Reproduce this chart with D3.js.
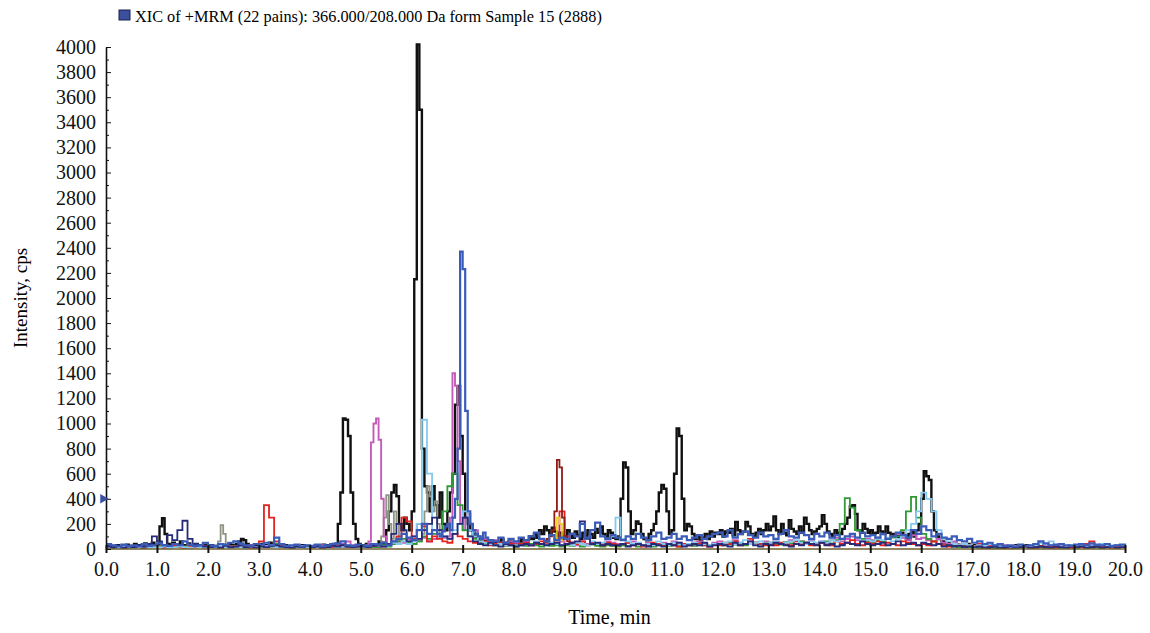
<!DOCTYPE html>
<html lang="en">
  <head>
    <meta charset="UTF-8" />
    <title>XIC chromatogram</title>
    <script src="https://cdn.jsdelivr.net/npm/d3@7"></script>
    <style>
      body { margin: 0; background: #fff; }
      svg { display: block; font-family: "Liberation Serif", "Times New Roman", serif; }
      .axis text { font-family: "Liberation Serif", "Times New Roman", serif; font-size: 20px; fill: #111; }
      .axis path, .axis line { stroke: #111; }
    </style>
  </head>
  <body>
    <svg width="1150" height="633"></svg>

    <script>
      // tick labels
      var xTicks = [0, 1, 2, 3, 4, 5, 6, 7, 8, 9, 10, 11, 12, 13, 14, 15, 16, 17, 18, 19, 20];
      var yTicks = [0, 200, 400, 600, 800, 1000, 1200, 1400, 1600, 1800, 2000, 2200, 2400, 2600, 2800, 3000, 3200, 3400, 3600, 3800, 4000];
      var yMinorTicks = [100, 300, 500, 700, 900, 1100, 1300, 1500, 1700, 1900, 2100, 2300, 2500, 2700, 2900, 3100, 3300, 3500, 3700, 3900];

      // intensities (cps); every segment gives start time, sampling step, values
      var blackValues = [
        20,15,25,10,30,20,15,25,35,20,15,40,20,30,25,45,20,30,50,25,
        30,180,245,120,40,30,50,25,35,60,30,20,45,30,25,40,20,30,25,35,
        20,30,15,25,20,35,30,20,40,30,25,40,60,80,70,40,30,25,20,30,
        25,40,30,20,50,35,40,25,30,20,30,25,15,20,30,25,20,30,15,25,
        20,15,30,25,20,35,25,30,20,40,40,200,450,1040,1030,900,450,200,80,40,
        30,20,40,25,30,20,30,60,40,50,150,300,450,510,420,200,150,250,200,150,
        300,2150,4020,3500,800,500,450,300,500,350,250,450,200,150,300,450,600,1150,1300,900,
        600,250,200,150,120,100,80,60,70,50,60,40,50,60,45,80,50,40,60,50,
        50,40,60,80,50,70,100,80,120,90,150,120,180,150,110,170,140,100,130,80,
        100,150,120,90,140,110,80,130,100,150,120,90,160,130,180,120,100,150,130,90,
        80,100,400,690,650,300,120,150,220,200,120,80,70,120,150,200,300,450,510,480,
        300,120,150,600,960,900,400,150,200,180,120,80,100,60,90,120,80,140,100,130,
        120,150,100,140,130,160,110,215,150,120,140,215,180,120,100,130,160,120,150,200,
        150,180,260,150,120,200,130,110,230,160,140,120,180,130,250,200,150,120,140,160,
        180,270,200,140,120,100,150,130,120,160,200,250,340,350,280,150,130,200,160,130,
        150,120,130,180,140,120,180,130,100,120,110,90,130,100,80,120,140,100,150,200,
        400,620,580,550,300,150,100,80,60,50,40,50,30,40,35,30,25,30,40,20,
        30,20,25,15,30,20,10,15,20,10,15,20,10,15,20,10,15,30,20,25,
        20,30,15,25,20,35,20,15,30,20,25,15,20,30,15,25,20,15,30,20,
        25,15,30,20,15,25,35,20,15,30,20,25,15,30,20,15,25,20,30,20,
        25
      ];

      var grayA = [20, 60, 190, 120, 30, 15];
      var grayB = [30, 100, 250, 430, 200, 80, 300, 200, 60];
      var grayC = [120, 300, 500, 420, 300, 380, 200, 90];

      var magentaA = [
        10,15,20,10,25,15,20,10,15,25, 20,30,15,20,25,10,20,30,15,20,
        25,15,20,30,20,15,25,20,30,15, 20,25,30,20,15,25,20,30,20,25,
        15,20,30,25,20,30,40,60,30,20, 25
      ];
      var magentaB = [20, 30, 60, 850, 1000, 1040, 870, 400, 100, 40, 30, 50];
      var magentaC = [60, 50, 80, 100, 70, 90, 60, 80, 120, 90, 100];
      var magentaD = [250, 1400, 1300, 700, 200, 150, 250, 280, 200, 150];
      var magentaE = [
        100,80,60,70,50,40,60,
        50,40,60,30,50,40,70,50,40,60, 40,50,30,60,40,50,30,40,60,50,
        40,30,50,60,40,30,50,40,30,50, 40,60,50,30,40,50,60,40,30,50,
        60,40,50,70,50,40,60,50,40,60, 50,60,40,50,70,40,60,50,70,40,
        60,50,70,90,60,80,100,70,60,80, 70,90,60,80,100,120,90,70,110,80,
        90,70,60,80,50,40,60,30,40,30, 20,30,15,25,20,15,30,20,25,15,
        20,15,25,20,30,15,20,25,15,20, 25,20,15,30,20,25,15,20,30,20, 20
      ];

      var greenValues = [
        15,10,20,15,10,25,15,10,20,15, 20,15,10,25,15,20,10,15,20,10,
        15,20,10,15,25,20,15,10,20,15, 20,15,25,40,20,15,10,20,15,25,
        15,20,10,25,15,20,30,25,15,20, 15,25,20,15,30,20,40,60,80,50,
        40,60,100,80,120,150,300,500,600,350, 150,100,80,60,50,40,30,40,25,30,
        20,30,25,40,30,20,35,25,30,20, 30,25,40,20,30,35,25,20,30,25,
        20,30,25,35,20,30,25,20,35,30, 25,30,20,35,30,25,40,30,25,35,
        40,30,50,35,45,30,40,50,35,45, 50,40,35,55,45,40,60,50,40,45,
        50,60,45,70,200,405,330,150,80,60, 50,70,60,80,90,100,150,300,415,250,
        120,80,60,40,30,25,20,15,20,15, 15,10,20,15,10,15,20,10,15,10,
        15,20,10,15,10,20,15,10,15,20, 10,15,20,10,15,10,20,15,10,15, 10
      ];

      var redValues = [
        10,20,15,10,25,15,20,10,15,20, 15,10,20,25,15,10,20,15,30,20,
        15,20,10,15,20,25,15,20,10,15, 60,350,250,60,30,20,15,25,20,15,
        15,20,10,25,15,20,30,20,15,20, 20,15,25,30,20,40,60,100,250,220,
        80,200,180,60,100,80,60,50,120,100, 80,60,50,40,60,30,40,50,30,40,
        30,40,50,30,40,60,50,40,80,300, 100,50,40,60,30,50,40,30,50,40,
        30,40,50,30,40,20,30,50,40,30, 40,30,20,40,30,50,40,30,20,40,
        30,50,40,60,30,40,80,50,40,30, 40,30,50,40,30,60,40,50,30,40,
        50,40,30,60,40,50,70,40,30,50, 40,60,30,50,40,30,60,50,40,30,
        40,30,60,40,30,20,40,30,20,30, 20,40,15,20,30,15,20,10,15,20,
        15,20,10,25,15,20,10,15,20,10, 20,15,40,60,30,15,20,10,15,20, 15
      ];
      var darkRedValues = [40, 60, 80, 100, 150, 300, 710, 650, 250, 100, 60, 40, 30];

      var lightBlueValues = [
        10,15,10,20,15,10,15,20,10,15, 15,20,10,15,20,15,10,20,15,10,
        20,15,25,15,10,20,15,10,20,15, 15,20,30,15,20,10,15,20,25,15,
        20,15,10,20,25,15,20,30,15,20, 15,20,40,30,20,30,50,40,60,40,
        60,200,1030,600,150,120,100,80,150,200, 300,150,100,60,50,40,30,40,30,25,
        30,25,40,30,60,40,30,50,40,30, 40,30,50,40,30,60,40,50,80,100,
        250,80,60,40,50,30,40,30,60,40, 30,50,40,30,40,50,30,40,30,40,
        40,50,60,40,50,70,40,50,60,40, 50,60,40,50,60,70,50,40,60,50,
        60,50,70,60,80,100,120,90,60,70, 60,80,70,90,60,80,100,150,200,300,
        450,400,300,150,80,60,40,30,40,30, 20,30,25,40,30,20,25,15,20,30,
        20,25,30,50,35,60,30,20,25,30, 25,30,20,35,25,40,30,20,30,25, 25
      ];

      var navyValues = [
        20,15,25,10,20,15,30,20,40,100, 60,30,110,70,150,225,80,40,30,20,
        15,20,10,25,15,20,30,15,20,10, 20,15,25,30,20,15,10,20,15,25,
        15,20,10,15,25,20,30,20,15,20, 20,15,25,30,20,40,120,200,150,60,
        100,80,150,200,250,150,100,80,120,200, 250,100,60,40,30,50,30,20,40,30,
        20,30,40,30,50,40,30,40,50,30, 40,50,60,220,80,40,50,30,40,30,
        30,40,20,30,40,30,20,40,30,20, 40,30,50,20,30,40,30,50,20,30,
        40,30,20,50,30,40,60,30,20,40, 30,50,40,30,20,40,30,50,40,30,
        50,30,40,20,30,50,40,30,60,40, 30,40,50,30,40,60,30,40,50,30,
        50,40,30,40,20,30,20,25,15,20, 15,20,10,15,20,10,15,20,10,15,
        20,10,15,20,15,10,20,15,10,20, 15,20,10,15,20,10,15,20,10,15, 10
      ];

      var blueA = [
        40,30,20,35,25,30,20,40,25,30, 45,30,25,40,30,60,35,25,30,50,
        30,25,40,35,50,60,45,30,25,40, 35,50,30,90,40,25,30,35,20,30,
        25,35,20,30,40,45,60,30,25,35, 30,25,40,35,50,30,60,80,120,90,
        70,150,200,120,150
      ];
      var blueB = [120, 100, 140, 180, 200, 150, 250, 400, 800, 2370, 2230, 1100, 300, 200, 150, 120, 100, 80, 130, 90];
      var blueC = [
        70,60,90,50,80,
        60,90,70,100,130,80,60,110,70,90, 80,120,100,200,90,150,210,100,80,110,
        90,70,100,80,120,90,70,100,130,80, 90,120,80,100,70,90,110,80,100,120,
        130,100,150,90,120,140,110,90,130,100, 110,80,120,150,100,90,130,110,80,120,
        100,130,90,110,80,100,120,90,130,100, 110,90,120,80,100,130,110,90,150,120,
        180,150,100,120,90,80,100,70,60,80, 50,60,40,50,30,40,25,30,20,35,
        25,30,40,60,45,30,35,40,30,25, 35,40,30,45,35,30,40,25,30,35, 30
      ];

      var yellowValues = [50, 250, 200, 60];

      var series = [
        { color: "#111111", width: 2.4, segments: [{ start: 0, step: 0.05, values: blackValues }] },
        { color: "#8e9484", width: 1.8, segments: [
          { start: 2.15, step: 0.05, values: grayA },
          { start: 5.35, step: 0.05, values: grayB },
          { start: 6.2, step: 0.05, values: grayC }] },
        { color: "#c25cb8", width: 1.9, segments: [
          { start: 0, step: 0.1, values: magentaA },
          { start: 5.05, step: 0.05, values: magentaB },
          { start: 5.7, step: 0.1, values: magentaC },
          { start: 6.75, step: 0.05, values: magentaD },
          { start: 7.3, step: 0.1, values: magentaE }] },
        { color: "#2f9a35", width: 1.8, segments: [{ start: 0, step: 0.1, values: greenValues }] },
        { color: "#e3231f", width: 1.8, segments: [{ start: 0, step: 0.1, values: redValues }] },
        { color: "#8e1b17", width: 1.8, segments: [{ start: 8.55, step: 0.05, values: darkRedValues }] },
        { color: "#e6d21c", width: 1.6, segments: [{ start: 8.8, step: 0.05, values: yellowValues }] },
        { color: "#86c9ee", width: 1.8, segments: [{ start: 0, step: 0.1, values: lightBlueValues }] },
        { color: "#262a78", width: 1.8, segments: [{ start: 0, step: 0.1, values: navyValues }] },
        { color: "#3b5bb8", width: 2.2, segments: [
          { start: 0, step: 0.1, values: blueA },
          { start: 6.5, step: 0.05, values: blueB },
          { start: 7.5, step: 0.1, values: blueC }] }
      ];

      var svg = d3.select("svg"),
        margin = { top: 47, right: 25, bottom: 84, left: 106 },
        width = +svg.attr("width") - margin.left - margin.right,
        height = +svg.attr("height") - margin.top - margin.bottom;

      var x = d3.scaleLinear().domain([0, 20]).range([0, 1019]),
        y = d3.scaleLinear().domain([0, 4000]).range([height, 0]);

      var g = svg
        .append("g")
        .attr("transform", "translate(" + margin.left + "," + margin.top + ")");

      var line = d3
        .line()
        .x(function (d) { return x(d[0]); })
        .y(function (d) { return y(d[1]); })
        .curve(d3.curveStepAfter);

      series.forEach(function (s) {
        var pts = [];
        s.segments.forEach(function (seg) {
          seg.values.forEach(function (v, i) {
            pts.push([seg.start + i * seg.step, v]);
          });
        });
        g.append("path")
          .datum(pts)
          .attr("fill", "none")
          .attr("stroke", s.color)
          .attr("stroke-width", s.width)
          .attr("stroke-linejoin", "miter")
          .attr("d", line);
      });

      // baseline
      g.append("line")
        .attr("x1", 0)
        .attr("x2", x(20))
        .attr("y1", y(0))
        .attr("y2", y(0))
        .attr("stroke", "#6e5d2c")
        .attr("stroke-width", 1.5);

      var xAxis = g.append("g")
        .attr("class", "axis axis--x")
        .attr("transform", "translate(0," + height + ")")
        .call(d3.axisBottom(x).tickValues(xTicks).tickFormat(d3.format(".1f")).tickSizeInner(4).tickSizeOuter(0).tickPadding(9));
      xAxis.select(".domain").remove();
      xAxis.selectAll("line").attr("y1", -4).attr("stroke-width", 2);

      g.append("g")
        .attr("class", "axis axis--y")
        .call(d3.axisLeft(y).tickValues(yMinorTicks).tickFormat("").tickSizeInner(-3).tickSizeOuter(0))
        .select(".domain").remove();

      var yAxis = g.append("g")
        .attr("class", "axis axis--y")
        .call(d3.axisLeft(y).tickValues(yTicks).tickFormat(d3.format("d")).tickSizeInner(-5).tickSizeOuter(0).tickPadding(10));
      yAxis.select(".domain").attr("stroke-width", 1.6);

      // marker on the y axis
      g.append("path")
        .attr("d", d3.symbol().type(d3.symbolTriangle).size(40))
        .attr("transform", "translate(-3," + y(400) + ") rotate(90)")
        .attr("fill", "#3a4f9e");

      svg.append("text")
        .attr("transform", "translate(27," + (margin.top + height / 2) + ") rotate(-90)")
        .attr("text-anchor", "middle")
        .style("font-size", "19px")
        .text("Intensity, cps");

      svg.append("text")
        .attr("x", margin.left + x(10) - 6)
        .attr("y", 624)
        .attr("text-anchor", "middle")
        .style("font-size", "20px")
        .text("Time, min");

      // legend
      svg.append("rect")
        .attr("x", 119)
        .attr("y", 10)
        .attr("width", 11)
        .attr("height", 10)
        .attr("fill", "#3b4f9c")
        .attr("stroke", "#1a2050")
        .attr("stroke-width", 1);

      svg.append("text")
        .attr("x", 135)
        .attr("y", 22)
        .style("font-size", "16.3px")
        .text("XIC of +MRM (22 pains): 366.000/208.000 Da form Sample 15 (2888)");
    </script>
  </body>
</html>
